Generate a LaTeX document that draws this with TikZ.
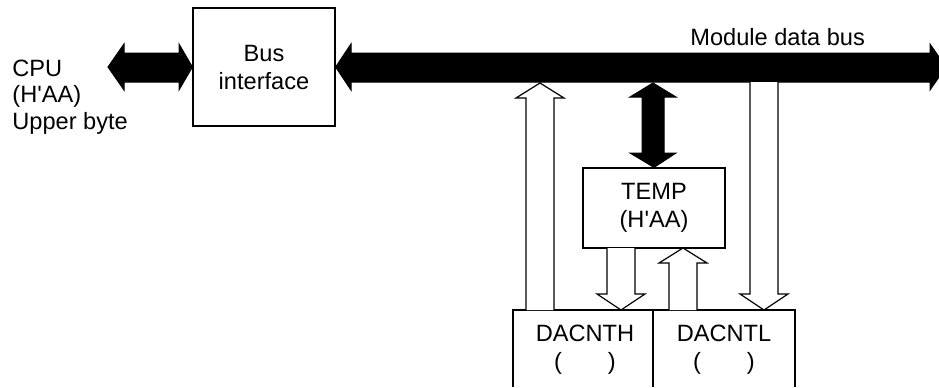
\documentclass[tikz,border=0pt]{standalone}
\usepackage{fontspec}
\setmainfont{Liberation Sans}[Ligatures=TeXOff]

% hollow block arrows: x of the shaft, then the two ends
\newcommand{\fatup}[3]{%
  \draw[hollow] (#1-14,#3) -- (#1-14,#2+15) -- (#1-24,#2+15) -- (#1,#2)
    -- (#1+24,#2+15) -- (#1+14,#2+15) -- (#1+14,#3);}
\newcommand{\fatdown}[3]{%
  \draw[hollow] (#1-14,#2) -- (#1-14,#3-16) -- (#1-24,#3-16) -- (#1,#3)
    -- (#1+24,#3-16) -- (#1+14,#3-16) -- (#1+14,#2);}

\begin{document}
\begin{tikzpicture}[x=0.5pt,y=-0.5pt,
    box/.style={draw,line width=0.6pt,inner sep=0pt,align=center,
                font=\fontsize{11.8}{14}\selectfont},
    txt/.style={inner sep=0pt,align=center,font=\fontsize{11.8}{14}\selectfont},
    blackbus/.style={fill=black,draw=black,line width=0.5pt},
    hollow/.style={fill=white,draw=black,line width=0.6pt}]

  \useasboundingbox (0,0) rectangle (939,387);

  % --- the blocks ---
  \node[box,minimum width=71pt,minimum height=59pt] (busif) at (264,67) {Bus\\interface};
  \node[box,minimum width=71pt,minimum height=40pt] (temp) at (654,208) {TEMP\\(H'AA)};

  % --- the two data registers, open at the bottom ---
  \draw[line width=0.6pt] (513,387) -- (513,310) -- (795,310) -- (795,387);
  \draw[line width=0.6pt] (653,310) -- (653,387);
  \node[txt] (dach) at (585,350) {DACNTH\\(\hspace*{23pt})};
  \node[txt] (dacl) at (724,350) {DACNTL\\(\hspace*{23pt})};

  % --- CPU side and the module data bus ---
  \draw[blackbus] (108,67) -- (124,44) -- (124,53) -- (179,53) -- (179,44)
    -- (busif.west) -- (179,90) -- (179,82) -- (124,82) -- (124,90) -- cycle;
  \draw[blackbus] (busif.east) -- (351,44) -- (351,53) -- (930,53) -- (930,44)
    -- (946,67) -- (930,90) -- (930,82) -- (351,82) -- (351,90) -- cycle;

  % --- bus <-> TEMP ---
  \draw[blackbus] (653,83) -- (676,97) -- (664,97) -- (664,153) -- (676,153)
    -- (temp.north) -- (630,153) -- (642,153) -- (642,97) -- (630,97) -- cycle;

  % --- hollow transfers ---
  \fatup{540}{83}{310}
  \fatdown{621}{248}{310}
  \fatup{683}{248}{310}
  \fatdown{764}{82}{310}

  % --- lettering ---
  \node[txt,align=left,anchor=west,font=\fontsize{11.8}{13.3}\selectfont]
    (cpu) at (12,97) {CPU\\(H'AA)\\Upper byte};
  \node[txt,anchor=base west] (mdb) at (690,45) {Module data bus};
\end{tikzpicture}
\end{document}
